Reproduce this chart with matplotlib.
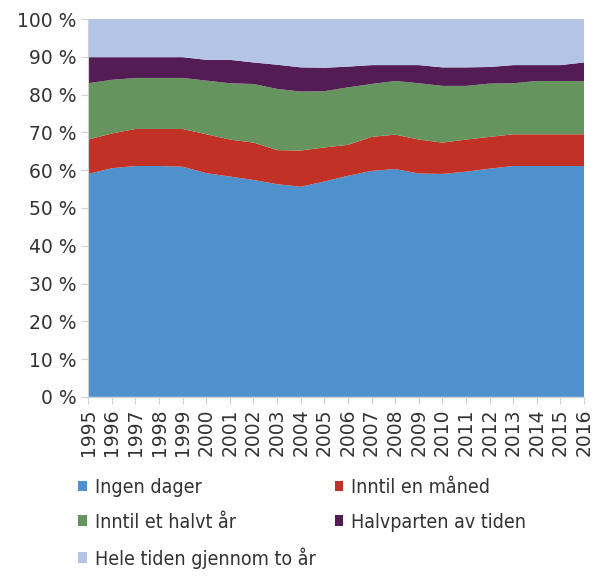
import matplotlib.pyplot as plt

plt.rcParams['font.family'] = ['DejaVu Sans']

years = list(range(1995, 2017))
# toppen av hvert lag (kumulativ prosent), lest av figuren
ingen_top = [59.0, 60.5, 61.1, 61.1, 60.9, 59.2, 58.3, 57.4, 56.3, 55.6, 57.0,
             58.5, 59.8, 60.3, 59.1, 59.0, 59.6, 60.4, 61.1, 61.1, 61.1, 61.1]
maaned_top = [68.1, 69.7, 70.9, 70.9, 70.9, 69.5, 68.1, 67.3, 65.3, 65.2, 66.0,
              66.7, 68.8, 69.4, 68.1, 67.3, 68.1, 68.8, 69.5, 69.5, 69.5, 69.5]
halvt_top = [83.0, 83.9, 84.4, 84.4, 84.4, 83.7, 83.0, 82.8, 81.5, 80.8, 80.9,
             81.9, 82.8, 83.6, 83.0, 82.3, 82.3, 82.9, 83.0, 83.6, 83.6, 83.6]
halvpart_top = [89.9, 89.9, 89.9, 89.9, 89.9, 89.2, 89.2, 88.5, 87.9, 87.2, 87.1,
                87.4, 87.8, 87.8, 87.8, 87.2, 87.2, 87.3, 87.8, 87.8, 87.8, 88.5]

labels = ["Ingen dager", "Inntil en måned", "Inntil et halvt år",
          "Halvparten av tiden", "Hele tiden gjennom to år"]
colors = ["#4F91CD", "#C23126", "#65945E", "#541C54", "#B3C4E5"]

ingen = ingen_top
maaned = [b - a for a, b in zip(ingen_top, maaned_top)]
halvt = [b - a for a, b in zip(maaned_top, halvt_top)]
halvpart = [b - a for a, b in zip(halvt_top, halvpart_top)]
hele = [100 - a for a in halvpart_top]

fig = plt.figure(figsize=(5.96, 5.76), dpi=100)
ax = fig.add_axes([0.148, 0.311, 0.832, 0.656])
polys = ax.stackplot(years, ingen, maaned, halvt, halvpart, hele,
                     colors=colors, labels=labels, linewidth=0)

ax.set_xlim(1995, 2016)
ax.set_ylim(0, 100)
ax.set_yticks(range(0, 101, 10))
ax.set_yticklabels([f"{v} %" for v in range(0, 101, 10)], fontsize=13.5)
ax.set_xticks(years)
ax.set_xticklabels([str(y) for y in years], rotation=90, fontsize=13.5)
for s in ["top", "right"]:
    ax.spines[s].set_visible(False)
for s in ["left", "bottom"]:
    ax.spines[s].set_color("#D0D0D0")
ax.tick_params(axis="both", colors="#D0D0D0", labelcolor="#333333", length=5)

# radvis rekkefølge som i originalen
order = [0, 2, 4, 1, 3]
leg = fig.legend(handles=[polys[i] for i in order], labels=[labels[i] for i in order],
                 ncol=2, loc="upper left", bbox_to_anchor=(78 / 596, 1 - 478 / 576),
                 frameon=False, borderpad=0, borderaxespad=0,
                 prop={"family": "DejaVu Sans", "stretch": "condensed", "size": 14},
                 handlelength=0.45, handleheight=0.45, handletextpad=0.4,
                 labelspacing=0.8, columnspacing=1.0, labelcolor="#333333")

fig.savefig("out.png", dpi=100)
